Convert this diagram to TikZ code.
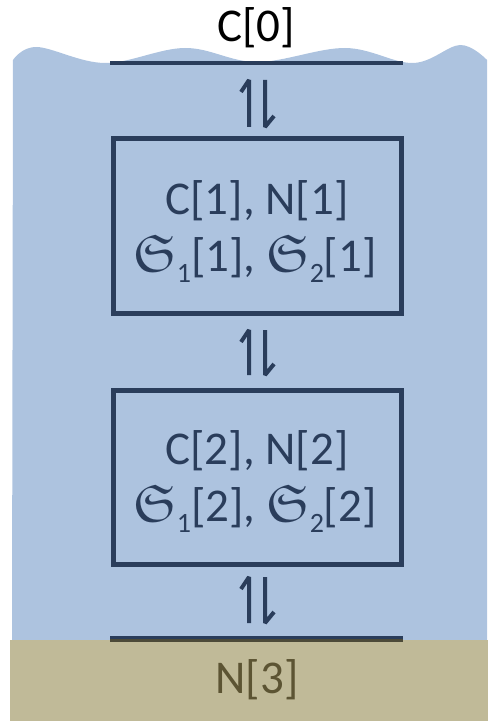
\documentclass[tikz,border=0pt]{standalone}
\usepackage{amsmath}
\usepackage{amssymb}
\usepackage{fontspec}
\setmainfont{Carlito}
\definecolor{water}{HTML}{ADC3DF}
\definecolor{sand}{HTML}{C0BA98}
\definecolor{ink}{HTML}{2A3D5B}
\definecolor{olive}{HTML}{5C5433}
\definecolor{olivedark}{HTML}{4C4A38}
\newcommand{\Sfr}[1]{\scalebox{1.12}{$\mathfrak{S}$}\raisebox{-5.5pt}{\fontsize{14}{14}\selectfont #1}}
\tikzset{
  boxnode/.style={draw=ink, line width=2.5pt, minimum width=144pt, minimum height=87pt, inner sep=0pt},
  txt/.style={anchor=base, inner sep=0pt, text=ink, font=\fontsize{23.5}{28}\selectfont},
  harp/.style={draw=ink, line width=2pt, line join=bevel},
  surf/.style={line width=2pt}
}
\begin{document}
\begin{tikzpicture}[x=0.5pt, y=-0.5pt]
\useasboundingbox (0,0) rectangle (490,721);
% water
\fill[water] (12,640) -- (13,60) -- plot[smooth, tension=0.6] coordinates {(13,60) (37,47) (105,63) (185,48) (257,62) (345,48) (413,63) (460,45) (487,60)} -- (487,640) -- cycle;
% sediment
\fill[sand] (10,640) rectangle (488,721);
% surfaces
\coordinate (s0l) at (110,63);
\coordinate (s0r) at (403,63);
\draw[surf, draw=ink] (s0l) -- (s0r);
\coordinate (s3l) at (110,637.5);
\coordinate (s3r) at (403,637.5);
\coordinate (s3lb) at (110,640.5);
\coordinate (s3rb) at (403,640.5);
\draw[line width=1.5pt, draw=ink] (s3l) -- (s3r);
\draw[line width=1.5pt, draw=olivedark] (s3lb) -- (s3rb);
% boxes
\node[boxnode] (b1) at (257,226) {};
\node[boxnode] (b2) at (257,477) {};
% labels
\node[txt, text=black] (c0) at (256,42) {C[0]};
\node[txt] (t1a) at (257,215) {C[1], N[1]};
\node[txt] (t1b) at (255,271) {\Sfr{1}[1], \Sfr{2}[1]};
\node[txt] (t2a) at (257,464) {C[2], N[2]};
\node[txt] (t2b) at (255,521) {\Sfr{1}[2], \Sfr{2}[2]};
\node[txt, text=olive] (n3) at (257,693) {N[3]};
% harpoons
\foreach \yt/\yb in {80/127, 330/375, 577/623}{
  \draw[harp] (249,\yb) -- (249,\yt) -- (241,\yt+12);
  \draw[harp] (265,\yt) -- (265,\yb) -- (274,\yb-11);
}
\end{tikzpicture}
\end{document}
